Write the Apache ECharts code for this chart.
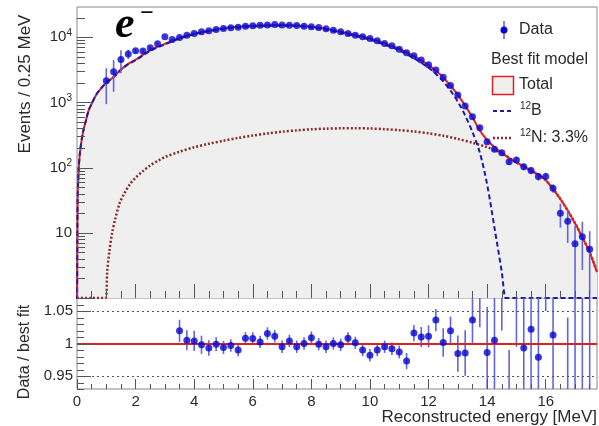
<!DOCTYPE html>
<html>
<head>
<meta charset="UTF-8">
<title>12B / 12N energy spectrum fit</title>
<style>
  html, body { margin: 0; padding: 0; background: #fff; }
  #container { width: 599px; height: 426px; }
</style>
<script src="https://cdn.jsdelivr.net/npm/echarts@6/dist/echarts.min.js"></script>
</head>
<body>
<div id="container"></div>
<script>
// ---- measured data (0.25 MeV bins) ----
var dataE = [1.0, 1.25, 1.5, 1.75, 2.0, 2.25, 2.5, 2.75, 3.0, 3.25, 3.5, 3.75, 4.0, 4.25, 4.5, 4.75,
  5.0, 5.25, 5.5, 5.75, 6.0, 6.25, 6.5, 6.75, 7.0, 7.25, 7.5, 7.75, 8.0, 8.25, 8.5, 8.75,
  9.0, 9.25, 9.5, 9.75, 10.0, 10.25, 10.5, 10.75, 11.0, 11.25, 11.5, 11.75, 12.0, 12.25, 12.5, 12.75,
  13.0, 13.25, 13.5, 13.75, 14.0, 14.25, 14.5, 14.75, 15.0, 15.25, 15.5, 15.75, 16.0, 16.25, 16.5, 16.75,
  17.0, 17.25, 17.5];
var dataV = [2140, 2950, 4550, 5500, 6170, 6110, 6850, 7950, 10100, 9230, 9890, 10730, 11400, 12050, 12500, 13130,
  13600, 13900, 14230, 14740, 14900, 15270, 15420, 15630, 15420, 15270, 15100, 14740, 14390, 14070, 13400, 12790,
  12050, 11400, 10730, 10100, 9550, 8780, 8000, 7360, 6550, 5750, 5180, 4450, 3770, 3130, 2420, 1820,
  1294, 878, 603, 409, 250, 191, 169, 123, 131, 103, 90, 73, 73, 48, 20, 15,
  6.8, 8.7, 5.6];
var dataErr = [1200, 1500, 1750, 900, 450, 400, 350, 300, 250, 220, 200, 200, 200, 200, 200, 200,
  200, 200, 200, 200, 200, 200, 200, 200, 200, 200, 200, 200, 200, 200, 180, 180,
  160, 160, 150, 150, 150, 140, 130, 120, 110, 100, 90, 80, 70, 60, 50, 40,
  35, 30, 25, 20, 18, 16, 15, 13, 13, 12, 11, 10, 10, 7, 8, 8,
  6, 6, 5];

// ---- ratio data / best fit ----
var ratioE = [3.5, 3.75, 4.0, 4.25, 4.5, 4.75, 5.0, 5.25, 5.5, 5.75, 6.0, 6.25, 6.5, 6.75, 7.0, 7.25,
  7.5, 7.75, 8.0, 8.25, 8.5, 8.75, 9.0, 9.25, 9.5, 9.75, 10.0, 10.25, 10.5, 10.75, 11.0, 11.25,
  11.5, 11.75, 12.0, 12.25, 12.5, 12.75, 13.0, 13.25, 13.5, 13.75, 14.0, 14.25, 14.5, 14.75, 15.0, 15.25,
  15.5, 15.75, 16.0, 16.25, 16.5, 16.75, 17.0, 17.25, 17.5];
var ratioV = [1.0195, 1.005, 1.004, 0.998, 0.993, 0.999, 0.994, 0.997, 0.990, 1.008, 1.0077, 1.0025, 1.0155, 1.011, 0.995, 1.004,
  0.995, 1.000, 1.009, 0.999, 0.995, 1.000, 0.998, 1.008, 1.001, 0.990, 0.982, 0.990, 0.995, 0.992, 0.987, 0.973,
  1.016, 1.010, 1.011, 1.036, 1.0015, 1.0195, 0.9845, 0.9855, 1.036, 1.09, 0.986, 1.005, 1.12, 0.85, 1.15, 0.993,
  1.022, 0.979, 1.25, 1.013, 0.57, 0.68, 0.7, 1.3, 1.2];
var ratioErr = [0.017, 0.0155, 0.0155, 0.014, 0.012, 0.0105, 0.01, 0.0095, 0.0095, 0.0095, 0.0095, 0.0095, 0.0095, 0.0095, 0.0095, 0.0095,
  0.0095, 0.0095, 0.0095, 0.0095, 0.0095, 0.0095, 0.0095, 0.0095, 0.0095, 0.0095, 0.0095, 0.0095, 0.0095, 0.0095, 0.01, 0.0125,
  0.0125, 0.0155, 0.017, 0.017, 0.022, 0.022, 0.028, 0.035, 0.035, 0.065, 0.07, 0.1, 0.1, 0.14, 0.155, 0.15,
  0.15, 0.15, 0.2, 0.2, 0.23, 0.36, 0.5, 0.7, 0.9];

// ---- best fit model curves ----
var totalE = [0, 0.02, 0.05, 0.1, 0.2, 0.3, 0.4, 0.5, 0.65, 0.8, 1.0, 1.25, 1.5, 1.75, 2.0, 2.5, 3.0, 3.5, 4.0, 4.5,
  5.0, 5.5, 6.0, 6.5, 7.0, 7.5, 8.0, 8.5, 9.0, 9.5, 10.0, 10.5, 11.0, 11.5, 12.0, 12.25, 12.5, 12.75, 13.0, 13.25,
  13.5, 13.75, 14.0, 14.25, 14.5, 14.75, 15.0, 15.5, 16.0, 16.5, 16.75, 17.0, 17.25, 17.5, 17.75];
var totalV = [0.3, 30, 80, 170, 340, 520, 760, 950, 1300, 1600, 2000, 2450, 3200, 3900, 4500, 6300, 7900, 9700, 11300, 12550,
  13650, 14400, 14900, 15250, 15350, 15150, 14450, 13450, 12100, 10800, 9550, 8050, 6650, 5100, 3730, 3050, 2420, 1800, 1300, 890,
  590, 370, 265, 205, 168, 140, 120, 90, 64, 33, 22, 14, 8.5, 5, 2.5];

var b12E = [0, 0.02, 0.05, 0.1, 0.2, 0.3, 0.4, 0.5, 0.65, 0.8, 1.0, 1.25, 1.5, 1.75, 2.0, 2.5, 3.0, 3.5, 4.0, 4.5,
  5.0, 5.5, 6.0, 6.5, 7.0, 7.5, 8.0, 8.5, 9.0, 9.5, 10.0, 10.5, 11.0, 11.5, 12.0, 12.25, 12.5, 12.75, 13.0, 13.25,
  13.5, 13.75, 14.0, 14.25, 14.5, 14.63, 14.7, 15.5, 16.5, 17.75];
var b12V = [0.3, 30, 80, 170, 340, 520, 760, 950, 1300, 1600, 1998, 2440, 3170, 3850, 4430, 6190, 7750, 9525, 11095, 12320,
  13390, 14115, 14590, 14915, 14995, 14780, 14065, 13055, 11700, 10400, 9150, 7660, 6275, 4745, 3395, 2730, 2110, 1510, 1025, 630,
  350, 170, 55, 12, 2.5, 1.0, 1.0, 1.0, 1.0, 1.0];

var n12E = [0, 0.5, 0.97, 1.03, 1.1, 1.2, 1.3, 1.45, 1.6, 1.8, 2.0, 2.25, 2.5, 2.8, 3.0, 3.5, 4.0, 4.5, 5.0, 5.5,
  6, 6.5, 7, 7.5, 8, 8.5, 9, 9.5, 10, 10.5, 11, 11.5, 12, 12.5, 13, 13.5, 14, 14.5, 15, 15.5,
  16, 16.5, 17, 17.5, 17.75];
var n12V = [1, 1, 1, 2.5, 5, 10, 16, 28, 39, 55, 70, 88, 108, 130, 145, 175, 205, 232, 258, 285,
  310, 334, 355, 372, 386, 395, 400, 401, 398, 388, 375, 357, 335, 308, 275, 240, 205, 166, 120, 90,
  64, 33, 14, 5, 2.5];

// ---- tick positions ----
var xMajorTicks = [0, 2, 4, 6, 8, 10, 12, 14, 16];
var xMinorTicks = [0.5, 1, 1.5, 2.5, 3, 3.5, 4.5, 5, 5.5, 6.5, 7, 7.5, 8.5, 9, 9.5, 10.5, 11, 11.5,
  12.5, 13, 13.5, 14.5, 15, 15.5, 16.5, 17, 17.5];
var yLogMajor = [1, 10, 100, 1000, 10000];
var yLogLabels = [10, 100, 1000, 10000];
var yLogMinor = [2, 3, 4, 5, 6, 7, 8, 9, 20, 30, 40, 50, 60, 70, 80, 90, 200, 300, 400, 500, 600, 700, 800, 900,
  2000, 3000, 4000, 5000, 6000, 7000, 8000, 9000, 20000];
var rMajorTicks = [0.95, 1, 1.05];
var rMinorTicks = [0.93, 0.94, 0.96, 0.97, 0.98, 0.99, 1.01, 1.02, 1.03, 1.04, 1.06, 1.07];

function zip(a, b, c) {
  return a.map(function (v, i) { return c ? [v, b[i], c[i]] : [v, b[i]]; });
}

var txt = '#2a2a2a';
var font = 'Liberation Sans, Arial, sans-serif';
var tickCol = '#555';

function errSeries(xi, yi, data, lowClamp) {
  return {
    type: 'custom', xAxisIndex: xi, yAxisIndex: yi, z: 4, data: data,
    renderItem: function (params, api) {
      var x = api.value(0), v = api.value(1), e = api.value(2);
      var p1 = api.coord([x, v + e]);
      var p2 = api.coord([x, Math.max(v - e, lowClamp)]);
      var cs = params.coordSys;
      return {
        type: 'line',
        shape: { x1: p1[0], y1: p1[1], x2: p2[0], y2: p2[1] },
        style: { stroke: '#6464dc', lineWidth: 1.6 },
        clipPath: { type: 'rect', shape: { x: cs.x, y: cs.y, width: cs.width, height: cs.height } }
      };
    }
  };
}

// inward tick marks on the left edge of a panel
function yTickSeries(xi, yi, major, minor, lMajor, lMinor) {
  var d = major.map(function (v) { return [0.01, v, lMajor]; })
    .concat(minor.map(function (v) { return [0.01, v, lMinor]; }));
  return {
    type: 'custom', xAxisIndex: xi, yAxisIndex: yi, z: 6, silent: true, data: d,
    renderItem: function (params, api) {
      var p = api.coord([api.value(0), api.value(1)]);
      var cs = params.coordSys;
      var y = Math.round(p[1]) + 0.5;
      return {
        type: 'line',
        shape: { x1: cs.x, y1: y, x2: cs.x + api.value(2), y2: y },
        style: { stroke: tickCol, lineWidth: 1 }
      };
    }
  };
}

function xAx(grid, ticks, len, labels) {
  return {
    gridIndex: grid, type: 'value', min: 0, max: 17.75, position: 'bottom', z: 6,
    axisLine: { show: false, onZero: false },
    splitLine: { show: false },
    axisTick: { show: true, inside: true, length: len, customValues: ticks, lineStyle: { color: tickCol, width: 1 } },
    axisLabel: labels ? { show: true, customValues: xMajorTicks, color: txt, fontSize: 15, fontFamily: font, margin: 5 } : { show: false }
  };
}

var chart = echarts.init(document.getElementById('container'));
chart.setOption({
  animation: false,
  grid: [
    { left: 77, right: 2, top: 7, height: 291, show: true, borderColor: '#888', borderWidth: 1, backgroundColor: '#fff' },
    { left: 77, right: 2, top: 298, height: 91, show: true, borderColor: '#888', borderWidth: 1, backgroundColor: '#fff' }
  ],
  xAxis: [
    xAx(0, xMajorTicks, 14, false),
    xAx(0, xMinorTicks, 7, false),
    xAx(1, xMajorTicks, 10, true),
    xAx(1, xMinorTicks, 5, false)
  ],
  yAxis: [
    {
      gridIndex: 0, type: 'log', logBase: 10, min: 1, max: 29000, position: 'left', z: 6,
      axisLine: { show: false, onZero: false }, splitLine: { show: false },
      axisTick: { show: false },
      axisLabel: {
        show: true, customValues: yLogLabels, margin: 5, color: txt, fontFamily: font,
        formatter: function (v) {
          var p = Math.round(Math.log(v) / Math.LN10);
          return p === 1 ? '{b|10}' : '{b|10}{s|' + p + '}';
        },
        rich: {
          b: { fontSize: 15, lineHeight: 18, color: txt, fontFamily: font },
          s: { fontSize: 10, lineHeight: 10, verticalAlign: 'top', color: txt, fontFamily: font }
        }
      }
    },
    {
      gridIndex: 1, type: 'value', min: 0.93, max: 1.07, position: 'left', z: 6,
      axisLine: { show: false, onZero: false }, splitLine: { show: false },
      axisTick: { show: false },
      axisLabel: {
        show: true, customValues: rMajorTicks, margin: 4, color: txt, fontSize: 15, fontFamily: font,
        formatter: function (v) { return String(+v.toFixed(2)); }
      }
    }
  ],
  series: [
    { // total model fill
      type: 'line', xAxisIndex: 0, yAxisIndex: 0, data: zip(totalE, totalV), symbol: 'none', z: 1,
      smooth: 0.3, lineStyle: { width: 0 }, areaStyle: { color: '#efefef', opacity: 1, origin: 'start' }
    },
    { // 12N
      type: 'line', xAxisIndex: 0, yAxisIndex: 0, data: zip(n12E, n12V), symbol: 'none', z: 2,
      smooth: 0.3, lineStyle: { color: '#8c2a2a', width: 2.5, type: [2, 2] }
    },
    { // total model line
      type: 'line', xAxisIndex: 0, yAxisIndex: 0, data: zip(totalE, totalV), symbol: 'none', z: 3,
      smooth: 0.3, lineStyle: { color: '#dc2222', width: 2 }
    },
    { // 12B
      type: 'line', xAxisIndex: 0, yAxisIndex: 0, data: zip(b12E, b12V), symbol: 'none', z: 3,
      smooth: 0.3, lineStyle: { color: '#1c1caa', width: 2, type: [5, 3] }
    },
    errSeries(0, 0, zip(dataE, dataV, dataErr), 0.5),
    {
      type: 'scatter', xAxisIndex: 0, yAxisIndex: 0, data: zip(dataE, dataV), z: 5,
      symbol: 'circle', symbolSize: 7, itemStyle: { color: '#0505d2' }
    },
    yTickSeries(0, 0, yLogMajor, yLogMinor, 16, 8),
    { // reference lines in ratio panel
      type: 'line', xAxisIndex: 2, yAxisIndex: 1, data: [], z: 2,
      markLine: {
        silent: true, symbol: 'none', label: { show: false }, animation: false,
        data: [
          { yAxis: 1.05, lineStyle: { color: '#555', width: 1, type: [2, 3] } },
          { yAxis: 0.95, lineStyle: { color: '#555', width: 1, type: [2, 3] } },
          { yAxis: 1, lineStyle: { color: '#dc2222', width: 2, type: 'solid' } }
        ]
      }
    },
    errSeries(2, 1, zip(ratioE, ratioV, ratioErr), 0),
    {
      type: 'scatter', xAxisIndex: 2, yAxisIndex: 1, data: zip(ratioE, ratioV), z: 5,
      symbol: 'circle', symbolSize: 7, itemStyle: { color: '#0505d2' }
    },
    yTickSeries(2, 1, rMajorTicks, rMinorTicks, 14, 7)
  ],
  graphic: [
    { type: 'text', x: 25, y: 84, rotation: Math.PI / 2,
      style: { text: 'Events / 0.25 MeV', fill: txt, font: '17px ' + font, align: 'center', verticalAlign: 'middle' } },
    { type: 'text', x: 25, y: 352, rotation: Math.PI / 2,
      style: { text: 'Data / best fit', fill: txt, font: '16px ' + font, align: 'center', verticalAlign: 'middle' } },
    { type: 'text', x: 597, y: 417,
      style: { text: 'Reconstructed energy [MeV]', fill: txt, font: '17px ' + font, align: 'right', verticalAlign: 'middle' } },
    { type: 'text', x: 115, y: 26, z: 10,
      style: { text: 'e', fill: '#000', font: 'italic bold 44px Liberation Serif, DejaVu Serif, serif', align: 'left', verticalAlign: 'middle' } },
    { type: 'text', x: 147, y: 14, z: 10,
      style: { text: '\u2212', fill: '#000', font: 'bold 24px Liberation Serif, DejaVu Serif, serif', align: 'center', verticalAlign: 'middle' } },
    // legend
    { type: 'line', z: 10, shape: { x1: 504, y1: 21, x2: 504, y2: 39 }, style: { stroke: '#6464dc', lineWidth: 1.6 } },
    { type: 'circle', z: 11, shape: { cx: 504, cy: 30, r: 3.5 }, style: { fill: '#0505d2' } },
    { type: 'text', z: 10, x: 519, y: 30, style: { text: 'Data', fill: txt, font: '16px ' + font, verticalAlign: 'middle' } },
    { type: 'text', z: 10, x: 491, y: 60, style: { text: 'Best fit model', fill: txt, font: '16px ' + font, verticalAlign: 'middle' } },
    { type: 'rect', z: 10, shape: { x: 492.5, y: 76.5, width: 21, height: 18 }, style: { fill: '#efefef', stroke: '#dc2222', lineWidth: 1.5 } },
    { type: 'text', z: 10, x: 519, y: 85, style: { text: 'Total', fill: txt, font: '16px ' + font, verticalAlign: 'middle' } },
    { type: 'line', z: 10, shape: { x1: 493, y1: 111, x2: 513, y2: 111 }, style: { stroke: '#1c1caa', lineWidth: 2, lineDash: [4, 3] } },
    { type: 'text', z: 10, x: 520, y: 111,
      style: { text: '{s|12}{b|B}', verticalAlign: 'middle',
        rich: { b: { fontSize: 16, lineHeight: 19, fill: txt, fontFamily: font },
                s: { fontSize: 10, lineHeight: 10, verticalAlign: 'top', fill: txt, fontFamily: font } } } },
    { type: 'line', z: 10, shape: { x1: 493, y1: 138, x2: 513, y2: 138 }, style: { stroke: '#8c2a2a', lineWidth: 2.5, lineDash: [2, 2] } },
    { type: 'text', z: 10, x: 520, y: 138,
      style: { text: '{s|12}{b|N: 3.3%}', verticalAlign: 'middle',
        rich: { b: { fontSize: 16, lineHeight: 19, fill: txt, fontFamily: font },
                s: { fontSize: 10, lineHeight: 10, verticalAlign: 'top', fill: txt, fontFamily: font } } } }
  ]
});
</script>
</body>
</html>
